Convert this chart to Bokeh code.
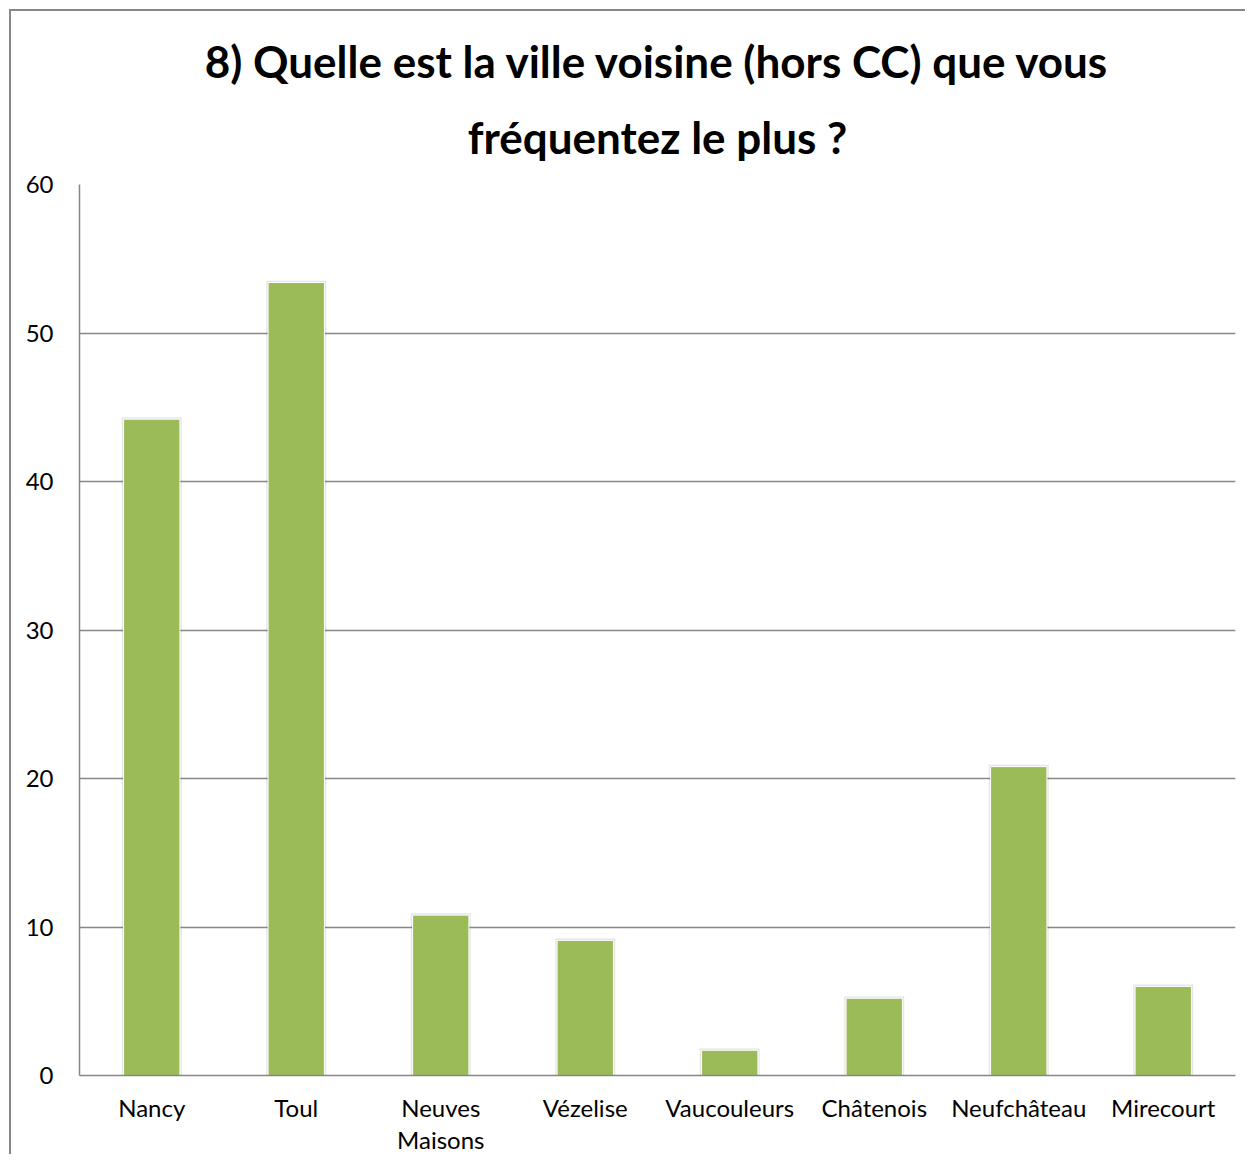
from bokeh.plotting import figure
from bokeh.models import ColumnDataSource, FixedTicker, Title, Range1d
from bokeh.embed import file_html
from bokeh.resources import INLINE

cities = ["Nancy", "Toul", "Neuves Maisons", "Vézelise", "Vaucouleurs",
          "Châtenois", "Neufchâteau", "Mirecourt"]
tick_labels = ["Nancy", "Toul", "Neuves\nMaisons", "Vézelise", "Vaucouleurs",
               "Châtenois", "Neufchâteau", "Mirecourt"]
values = [44.2, 53.4, 10.8, 9.1, 1.7, 5.2, 20.8, 6.0]
y_ticks = [0, 10, 20, 30, 40, 50, 60]
title_lines = ["8) Quelle est la ville voisine (hors CC) que vous",
               "fréquentez le plus ?"]

FONT = "Lato"
GRAY = "#878787"

xs = list(range(1, len(cities) + 1))
src = ColumnDataSource(dict(x=xs, city=cities, top=values,
                            shadow=[v + 0.12 for v in values]))

p = figure(width=1236, height=1145, x_range=Range1d(0.5, len(cities) + 0.5),
           y_range=(0, 60),
           output_backend="svg", toolbar_location=None, title=None,
           min_border_left=68, min_border_right=12,
           min_border_top=173, min_border_bottom=60)
p.styles = {"margin-left": "9px", "margin-top": "9px",
            "border-left": "2px solid #878787",
            "border-top": "2px solid #878787"}

p.add_layout(Title(text=title_lines[1], align="center", text_font=FONT,
                   text_font_size="44px", text_font_style="bold",
                   text_color="#000000", standoff=44), "above")
p.add_layout(Title(text=title_lines[0], align="center", text_font=FONT,
                   text_font_size="44px", text_font_style="bold",
                   text_color="#000000", standoff=0), "above")

p.vbar(x="x", top="shadow", width=0.415, source=src, fill_color="#000000",
       fill_alpha=0.10, line_color=None)
p.vbar(x="x", top="top", width=0.39, source=src, fill_color="#9BBB59",
       line_color="#FFFFFF", line_width=1)

p.outline_line_color = None
p.background_fill_color = "#FFFFFF"
p.border_fill_color = "#FFFFFF"

p.xgrid.grid_line_color = None
p.ygrid.grid_line_color = GRAY
p.ygrid.grid_line_width = 1.5
p.yaxis.ticker = FixedTicker(ticks=y_ticks)
p.xaxis.ticker = FixedTicker(ticks=xs)
p.xaxis.major_label_overrides = {x: lab for x, lab in zip(xs, tick_labels)}

for ax in (p.xaxis[0], p.yaxis[0]):
    ax.axis_line_color = GRAY
    ax.axis_line_width = 1.5
    ax.major_tick_line_color = None
    ax.minor_tick_line_color = None
    ax.major_label_text_font = FONT
    ax.major_label_text_font_size = "24px"
    ax.major_label_text_color = "#000000"

p.yaxis.major_label_standoff = 20
p.xaxis.major_label_standoff = 11
p.xaxis.major_label_text_line_height = 1.12

open("out.html", "w").write(file_html(p, INLINE))
